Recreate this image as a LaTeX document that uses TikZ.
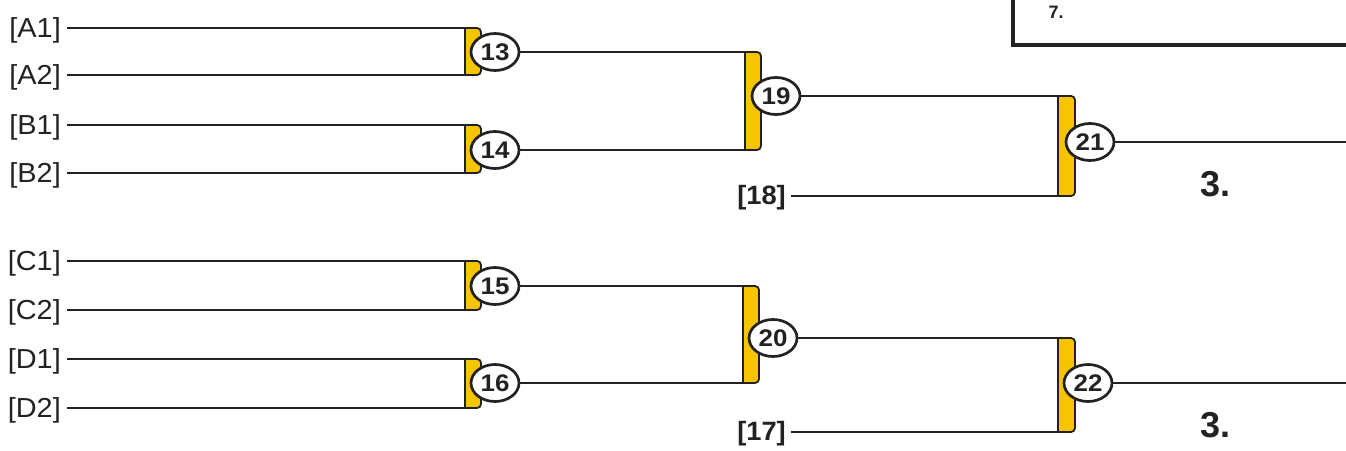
\documentclass[tikz,border=0pt]{standalone}
\usepackage{fontspec}
\setmainfont{Liberation Sans}
\usetikzlibrary{shapes.geometric}
\definecolor{gold}{RGB}{247,196,0}
\definecolor{ink}{RGB}{34,34,34}
\tikzset{
  wire/.style={line width=2.9pt, draw=ink},
  bar/.style={fill=gold, draw=ink, line width=1.8pt, rounded corners=4pt},
  seed/.style={font=\fontsize{27.5}{27.5}\selectfont, text=ink, inner sep=0pt, anchor=east},
  bye/.style={font=\bfseries\fontsize{26.5}{26.5}\selectfont, text=ink, inner sep=0pt, anchor=east},
  game/.style={ellipse, draw=ink, line width=2.7pt, fill=white, minimum width=48pt, minimum height=37pt, inner sep=0pt, font=\bfseries\fontsize{24}{24}\selectfont, text=ink},
  place/.style={font=\bfseries\fontsize{36}{36}\selectfont, text=ink, inner sep=0pt},
  note/.style={font=\bfseries\fontsize{18}{18}\selectfont, text=ink, inner sep=0pt},
  frame/.style={line width=3.2pt, draw=ink}
}
\newcommand{\sx}[1]{\scalebox{1.05}[1]{#1}}
\newcommand{\gx}[1]{\scalebox{1.08}[1]{#1}}
\begin{document}
\begin{tikzpicture}[x=1pt, y={(0pt,-1pt)}]
\useasboundingbox (0,0) rectangle (1346,450);
\clip (0,0) rectangle (1346,450);
% bracket corner coordinates
\coordinate (t13) at (465,28);  \coordinate (b13) at (465,75);
\coordinate (t14) at (465,125); \coordinate (b14) at (465,173);
\coordinate (t15) at (465,261); \coordinate (b15) at (465,310);
\coordinate (t16) at (465,359); \coordinate (b16) at (465,408);
\coordinate (t19) at (745,52);  \coordinate (b19) at (745,150);
\coordinate (t20) at (743,286); \coordinate (b20) at (743,383);
\coordinate (t21) at (1058,96); \coordinate (b21) at (1058,196);
\coordinate (t22) at (1058,338);\coordinate (b22) at (1058,432);
\coordinate (o21) at (1346,142);
\coordinate (o22) at (1346,383);
% seed labels
\node[seed] (a1) at (61,30) {\sx{[A1]}};
\node[seed] (a2) at (61,77) {\sx{[A2]}};
\node[seed] (b1) at (61,127) {\sx{[B1]}};
\node[seed] (b2) at (61,175) {\sx{[B2]}};
\node[seed] (c1) at (61,263) {\sx{[C1]}};
\node[seed] (c2) at (61,312) {\sx{[C2]}};
\node[seed] (d1) at (61,361) {\sx{[D1]}};
\node[seed] (d2) at (61,410) {\sx{[D2]}};
\node[bye] (s18) at (786,197.5) {\scalebox{1.03}[1]{[18]}};
\node[bye] (s17) at (786,434) {\scalebox{1.03}[1]{[17]}};
% input wires
\draw[wire] ([xshift=6pt]a1.east |- t13) -- (t13);
\draw[wire] ([xshift=6pt]a2.east |- b13) -- (b13);
\draw[wire] ([xshift=6pt]b1.east |- t14) -- (t14);
\draw[wire] ([xshift=6pt]b2.east |- b14) -- (b14);
\draw[wire] ([xshift=6pt]c1.east |- t15) -- (t15);
\draw[wire] ([xshift=6pt]c2.east |- b15) -- (b15);
\draw[wire] ([xshift=6pt]d1.east |- t16) -- (t16);
\draw[wire] ([xshift=6pt]d2.east |- b16) -- (b16);
\draw[wire] ([xshift=5pt]s18.east |- b21) -- (b21);
\draw[wire] ([xshift=5pt]s17.east |- b22) -- (b22);
% bars
\foreach \m/\w in {13/16,14/16,15/16,16/16,19/16,20/16,21/17,22/17}{
  \draw[bar] (t\m) -- ([xshift=\w pt]t\m) -- ([xshift=\w pt]b\m) -- (b\m);
  \draw[wire] (t\m) -- (b\m);
}
% games
\node[game] (g13) at (495,52)  {\gx{13}};
\node[game] (g14) at (495,150) {\gx{14}};
\node[game] (g15) at (495,286) {\gx{15}};
\node[game] (g16) at (495,383) {\gx{16}};
\node[game] (g19) at (776,96)  {\gx{19}};
\node[game] (g20) at (773,338) {\gx{20}};
\node[game] (g21) at (1090,142) {\gx{21}};
\node[game] (g22) at (1088,383) {\gx{22}};
% game-to-game wires
\draw[wire] (g13.east) -- (t19);
\draw[wire] (g14.east) -- (b19);
\draw[wire] (g15.east) -- (t20);
\draw[wire] (g16.east) -- (b20);
\draw[wire] (g19.east) -- (t21);
\draw[wire] (g20.east) -- (t22);
\draw[wire] (g21.east) -- (o21);
\draw[wire] (g22.east) -- (o22);
% places
\node[place] (p3a) at (1215,184) {3.};
\node[place] (p3b) at (1215,425) {3.};
% top-right frame
\draw[frame] (1013,-10) -- (1013,45) -- (1360,45);
\node[note] (n7) at (1056,12) {7.};
\end{tikzpicture}
\end{document}
